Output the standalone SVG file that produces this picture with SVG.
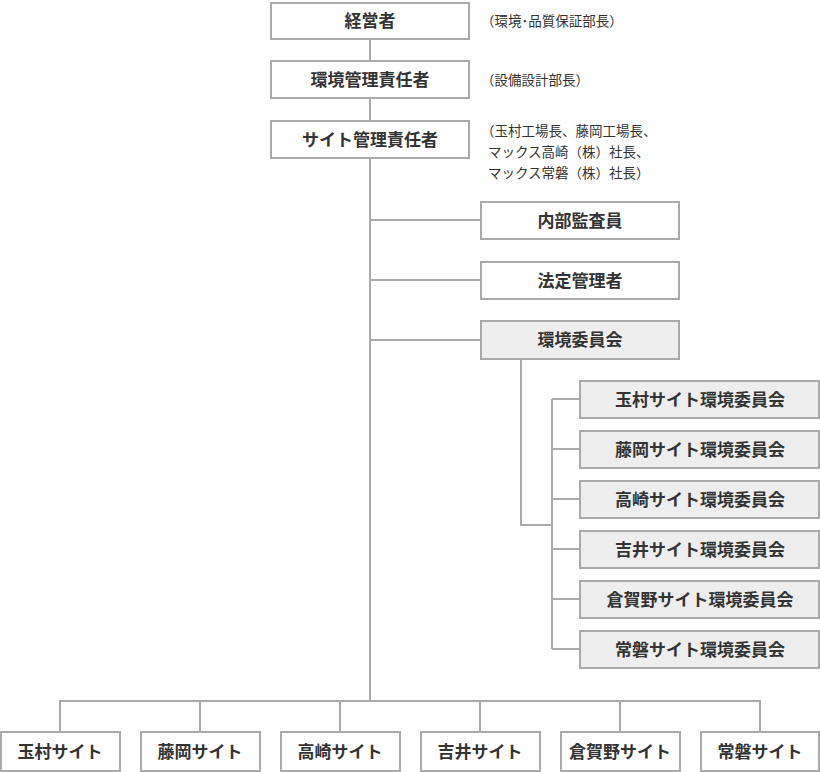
<svg xmlns="http://www.w3.org/2000/svg" width="820" height="772" viewBox="0 0 820 772">
<style>
.b{fill:#fff;stroke:#aaa;stroke-width:2}
.g{fill:#eeeeee;stroke:#aaa;stroke-width:2}
.t{font-family:"Noto Sans CJK JP",sans-serif;font-size:17px;font-weight:bold;fill:#333;text-anchor:middle}
.n{font-family:"Noto Sans CJK JP",sans-serif;font-size:13.5px;fill:#333}
.c{stroke:#aaa;stroke-width:2;fill:none}
</style>
<rect width="820" height="772" fill="#fff"/>
<g id="connectors">
<path class="c" d="M370 39V61M370 98V121M370 158V701M370 220H481M370 280H481M370 340H481M521 359V525H552M552 399V649M552 399H580M552 449H580M552 499H580M552 549H580M552 599H580M552 649H580M60 732V701H760V732M200 701V732M340 701V732M480 701V732M620 701V732"/>
</g>
<g id="n1"><rect class="b" x="271" y="3" width="198" height="36"/><text class="t" x="370" y="27">経営者</text></g>
<text class="n" x="481" y="26">（環境･品質保証部長）</text>
<g id="n2"><rect class="b" x="271" y="61" width="198" height="37"/><text class="t" x="370" y="86">環境管理責任者</text></g>
<text class="n" x="481" y="85">（設備設計部長）</text>
<g id="n3"><rect class="b" x="271" y="121" width="198" height="37"/><text class="t" x="370" y="146">サイト管理責任者</text></g>
<text class="n" x="481" y="136">（玉村工場長、藤岡工場長、</text>
<text class="n" x="488" y="157">マックス高崎（株）社長、</text>
<text class="n" x="488" y="178">マックス常磐（株）社長）</text>
<g id="n4"><rect class="b" x="481" y="202" width="198" height="37"/><text class="t" x="580" y="227">内部監査員</text></g>
<g id="n5"><rect class="b" x="481" y="262" width="198" height="37"/><text class="t" x="580" y="287">法定管理者</text></g>
<g id="n6"><rect class="g" x="481" y="321" width="198" height="38"/><text class="t" x="580" y="346">環境委員会</text></g>
<g id="s1"><rect class="g" x="580" y="381" width="239" height="37"/><text class="t" x="700" y="406">玉村サイト環境委員会</text></g>
<g id="s2"><rect class="g" x="580" y="431" width="239" height="37"/><text class="t" x="700" y="456">藤岡サイト環境委員会</text></g>
<g id="s3"><rect class="g" x="580" y="481" width="239" height="37"/><text class="t" x="700" y="506">高崎サイト環境委員会</text></g>
<g id="s4"><rect class="g" x="580" y="531" width="239" height="37"/><text class="t" x="700" y="556">吉井サイト環境委員会</text></g>
<g id="s5"><rect class="g" x="580" y="581" width="239" height="37"/><text class="t" x="700" y="606">倉賀野サイト環境委員会</text></g>
<g id="s6"><rect class="g" x="580" y="631" width="239" height="37"/><text class="t" x="700" y="656">常磐サイト環境委員会</text></g>
<g id="b1"><rect class="b" x="1" y="732" width="119" height="39"/><text class="t" x="60" y="758">玉村サイト</text></g>
<g id="b2"><rect class="b" x="141" y="732" width="119" height="39"/><text class="t" x="200" y="758">藤岡サイト</text></g>
<g id="b3"><rect class="b" x="281" y="732" width="119" height="39"/><text class="t" x="340" y="758">高崎サイト</text></g>
<g id="b4"><rect class="b" x="421" y="732" width="119" height="39"/><text class="t" x="480" y="758">吉井サイト</text></g>
<g id="b5"><rect class="b" x="561" y="732" width="119" height="39"/><text class="t" x="620" y="758">倉賀野サイト</text></g>
<g id="b6"><rect class="b" x="701" y="732" width="118" height="39"/><text class="t" x="760" y="758">常磐サイト</text></g>
</svg>
